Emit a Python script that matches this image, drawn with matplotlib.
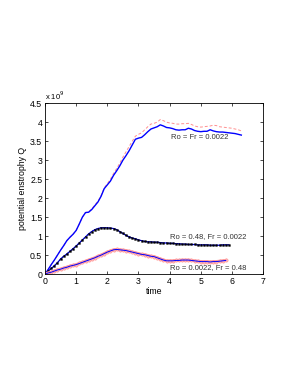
import numpy as np
import matplotlib
matplotlib.use("Agg")
import matplotlib.pyplot as plt

plt.rcParams['font.family'] = ['Liberation Sans', 'DejaVu Sans']

# time axis (sampled every 0.1)
t_top = np.round(np.arange(0, 6.35, 0.1), 2)
# Ro = Fr = 0.0022 (blue solid), units of 1e9
q_top = [0.0, 0.12, 0.25, 0.37, 0.5, 0.63, 0.75, 0.88, 0.97, 1.05, 1.15,
         1.32, 1.5, 1.62, 1.63, 1.7, 1.8, 1.9, 2.05, 2.25, 2.35,
         2.45, 2.6, 2.72, 2.85, 3.0, 3.12, 3.25, 3.4, 3.55, 3.58,
         3.6, 3.67, 3.75, 3.82, 3.85, 3.88, 3.93, 3.9, 3.86, 3.85,
         3.83, 3.8, 3.79, 3.8, 3.8, 3.84, 3.82, 3.78, 3.76, 3.75,
         3.76, 3.76, 3.8, 3.77, 3.75, 3.74, 3.74, 3.73, 3.72, 3.71,
         3.7, 3.68, 3.66]
# companion run (red dashed)
q_top_ref = [0.0, 0.12, 0.25, 0.37, 0.5, 0.63, 0.75, 0.88, 0.97, 1.05, 1.15,
             1.32, 1.5, 1.62, 1.64, 1.72, 1.82, 1.92, 2.07, 2.27, 2.38,
             2.5, 2.65, 2.78, 2.92, 3.08, 3.22, 3.36, 3.5, 3.63, 3.68,
             3.72, 3.8, 3.88, 3.95, 3.97, 4.0, 4.07, 4.04, 4.0, 3.98,
             3.97, 3.95, 3.95, 3.96, 3.96, 3.97, 3.94, 3.9, 3.88, 3.87,
             3.88, 3.89, 3.9, 3.92, 3.91, 3.88, 3.87, 3.86, 3.85, 3.84,
             3.82, 3.8, 3.77]

t_mid = np.round(np.arange(0, 5.95, 0.1), 2)
# Ro = 0.48, Fr = 0.0022
q_mid = [0.0, 0.08, 0.15, 0.22, 0.3, 0.4, 0.47, 0.53, 0.6, 0.67, 0.74,
         0.82, 0.9, 0.98, 1.06, 1.12, 1.17, 1.2, 1.22, 1.22, 1.22,
         1.21, 1.2, 1.17, 1.12, 1.07, 1.02, 0.98, 0.95, 0.93, 0.9,
         0.88, 0.86, 0.85, 0.85, 0.84, 0.84, 0.83, 0.82, 0.82, 0.81,
         0.81, 0.8, 0.8, 0.79, 0.79, 0.78, 0.78, 0.78, 0.77, 0.77,
         0.77, 0.77, 0.76, 0.76, 0.76, 0.76, 0.77, 0.77, 0.77]

t_low = np.round(np.arange(0, 5.85, 0.1), 2)
# Ro = 0.0022, Fr = 0.48
q_low = [0.0, 0.03, 0.05, 0.08, 0.11, 0.13, 0.16, 0.18, 0.21, 0.23, 0.25,
         0.28, 0.31, 0.34, 0.37, 0.4, 0.43, 0.47, 0.5, 0.54, 0.58,
         0.61, 0.64, 0.65, 0.64, 0.63, 0.62, 0.6, 0.58, 0.56, 0.54,
         0.52, 0.51, 0.49, 0.47, 0.46, 0.43, 0.4, 0.37, 0.35, 0.35,
         0.35, 0.36, 0.36, 0.37, 0.37, 0.37, 0.36, 0.35, 0.34, 0.33,
         0.33, 0.33, 0.32, 0.33, 0.33, 0.34, 0.35, 0.36]

labels = ["Ro = Fr = 0.0022", "Ro = 0.48, Fr = 0.0022", "Ro = 0.0022, Fr = 0.48"]

fig = plt.figure(figsize=(2.98, 3.85), dpi=100)
ax = fig.add_axes([0.151, 0.288, 0.732, 0.444])

ax.plot(t_top, q_top_ref, '--', color='#ff9090', lw=0.7, dashes=(3, 2))
ax.plot(t_top, q_top, '-', color='#0000ff', lw=1.0)

ax.plot(t_mid, q_mid, '-', color='#0000ff', lw=0.9)
ax.plot(t_mid, q_mid, ':', color='black', marker='s', ms=1.3, lw=0.6,
        markeredgewidth=0.3)

ax.plot(t_low, q_low, '-', color='#ffa0a0', marker='o', ms=2.4, lw=2.2,
        markerfacecolor='#ffb8b8', markeredgecolor='#ff8080', markeredgewidth=0.3)
ax.plot(t_low, q_low, '-', color='#0000ff', lw=0.7)

ax.text(4.05, 3.6, labels[0], fontsize=5.5, va='center', color='#333333')
ax.text(4.0, 1.0, labels[1], fontsize=5.5, va='center', color='#333333')
ax.text(4.02, 0.18, labels[2], fontsize=5.5, va='center', color='#333333')

ax.set_xlim(0, 7)
ax.set_ylim(0, 4.5)
ax.set_xticks(range(0, 8))
ax.set_yticks(np.arange(0, 4.6, 0.5))
ax.set_yticklabels(['0', '0.5', '1', '1.5', '2', '2.5', '3', '3.5', '4', '4.5'])
ax.tick_params(direction='in', length=2.5, width=0.5, labelsize=6.3, pad=2,
               top=True, right=True)
for s in ax.spines.values():
    s.set_linewidth(0.6)
ax.set_xlabel('time', fontsize=6.3, labelpad=1)
ax.set_ylabel('potential enstrophy Q', fontsize=6.3, labelpad=2)
ax.text(0.0, 1.005, r'x 10$^9$', transform=ax.transAxes, fontsize=5.5,
        va='bottom', ha='left')

fig.savefig('out.png', dpi=100)
